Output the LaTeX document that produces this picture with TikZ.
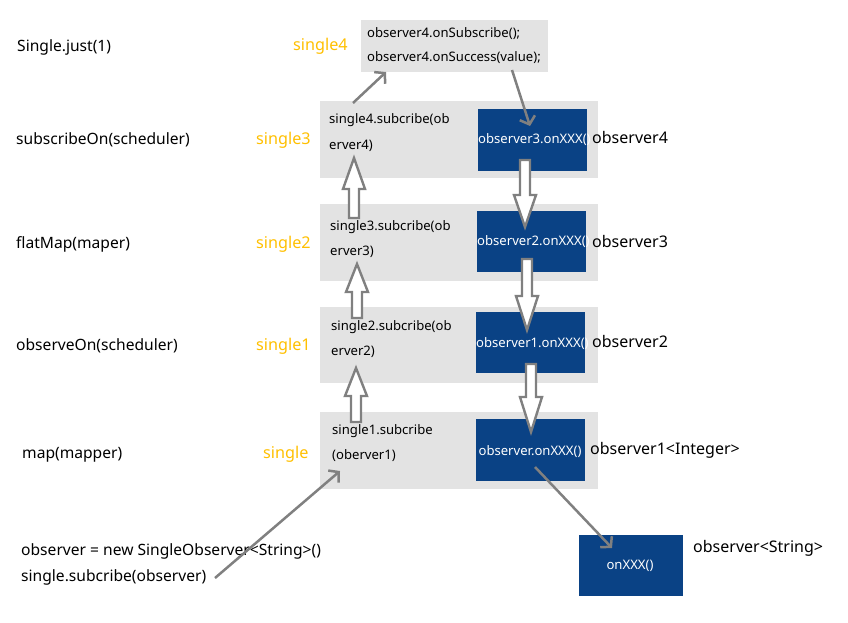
\documentclass[tikz,border=0pt]{standalone}
\usepackage{fontspec}
\setmainfont{Noto Sans}
\usetikzlibrary{arrows.meta}
\definecolor{boxgray}{RGB}{227,227,227}
\definecolor{obsblue}{RGB}{10,66,133}
\definecolor{gold}{RGB}{255,192,0}
\definecolor{arrgray}{RGB}{128,128,128}
\begin{document}
\begin{tikzpicture}[x=1pt,y=-1pt,
  graybox/.style={fill=boxgray,draw=none,anchor=north west,inner sep=0},
  bluebox/.style={fill=obsblue,draw=none,anchor=north west,inner sep=0},
  optext/.style={anchor=west,inner sep=0,font=\fontsize{15.6}{17}\selectfont},
  ylabel/.style={anchor=west,inner sep=0,text=gold,font=\fontsize{16.2}{17}\selectfont},
  smalltext/.style={anchor=west,inner sep=0,font=\fontsize{13.1}{15}\selectfont},
  bluetext/.style={inner sep=0,text=white,font=\fontsize{13.1}{15}\selectfont},
  obslabel/.style={anchor=west,inner sep=0,font=\fontsize{16}{17}\selectfont},
  linearrow/.style={draw=arrgray,line width=2.5pt,-{Straight Barb[length=7pt,width=16pt,line width=2.5pt]}},
  blockarrow/.style={draw=arrgray,fill=white,line width=2.4pt,line join=miter}
]
\useasboundingbox (0,0) rectangle (848,623);
\fill[white] (0,0) rectangle (848,623);

% gray boxes
\node[graybox,minimum width=187,minimum height=52] (top) at (361,20) {};
\node[graybox,minimum width=278,minimum height=77] (r3) at (320,101) {};
\node[graybox,minimum width=278,minimum height=77] (r2) at (320,204) {};
\node[graybox,minimum width=278,minimum height=76] (r1) at (320,307) {};
\node[graybox,minimum width=278,minimum height=77] (r0) at (320,412) {};

% blue boxes
\node[bluebox,minimum width=109,minimum height=62] (b3) at (478,109) {};
\node[bluebox,minimum width=109,minimum height=61] (b2) at (477,211) {};
\node[bluebox,minimum width=109,minimum height=61] (b1) at (476,312) {};
\node[bluebox,minimum width=109,minimum height=62] (b0) at (476,419) {};
\node[bluebox,minimum width=104,minimum height=61] (bs) at (579,535) {};

% left operator texts
\node[optext] (t5) at (17,47) {Single.just(1)};
\node[optext] (t4) at (16,140) {subscribeOn(scheduler)};
\node[optext] (t3) at (16,244) {flatMap(maper)};
\node[optext] (t2) at (16,346) {observeOn(scheduler)};
\node[optext] (t1) at (22,455) {map(mapper)};
\node[optext] (t0a) at (21,551) {observer = new SingleObserver<String>()};
\node[optext] (t0b) at (21,577) {single.subcribe(observer)};

% yellow labels
\node[ylabel] (y4) at (293,46) {single4};
\node[ylabel] (y3) at (256,140) {single3};
\node[ylabel] (y2) at (256,244) {single2};
\node[ylabel] (y1) at (256,346) {single1};
\node[ylabel] (y0) at (263,454) {single};

% gray box texts
\node[smalltext] (c1) at (367,34) {observer4.onSubscribe();};
\node[smalltext] (c2) at (367,58) {observer4.onSuccess(value);};
\node[smalltext] (s3a) at (329,120) {single4.subcribe(ob};
\node[smalltext] (s3b) at (329,146) {erver4)};
\node[smalltext] (s2a) at (330,227) {single3.subcribe(ob};
\node[smalltext] (s2b) at (330,252) {erver3)};
\node[smalltext] (s1a) at (331,327) {single2.subcribe(ob};
\node[smalltext] (s1b) at (331,352) {erver2)};
\node[smalltext] (s0a) at (332,431) {single1.subcribe};
\node[smalltext] (s0b) at (332,456) {(oberver1)};

% blue texts
\node[bluetext,anchor=west] (o3) at (478,140) {observer3.onXXX()};
\node[bluetext,anchor=west] (o2) at (477,242) {observer2.onXXX()};
\node[bluetext,anchor=west] (o1) at (476,344) {observer1.onXXX()};
\node[bluetext] (o0) at (530,452) {observer.onXXX()};
\node[bluetext] (os) at (630,566) {onXXX()};

% right labels
\node[obslabel] (l4) at (592,137) {observer4};
\node[obslabel] (l3) at (592,241) {observer3};
\node[obslabel] (l2) at (592,341) {observer2};
\node[obslabel] (l1) at (590,450) {observer1<Integer>};
\node[obslabel] (l0) at (693,548) {observer<String>};

% line arrows
\coordinate (a1s) at (353,103);
\coordinate (a1e) at (386,72);
\draw[linearrow] (a1s) -- (a1e);
\coordinate (a2s) at (512,70);
\coordinate (a2e) at (530,126);
\draw[linearrow] (a2s) -- (a2e);
\coordinate (a3s) at (215,578);
\coordinate (a3e) at (340,471);
\draw[linearrow] (a3s) -- (a3e);
\coordinate (a4s) at (535,467);
\coordinate (a4e) at (612,548);
\draw[linearrow] (a4s) -- (a4e);

% block arrows
\newcommand{\uparr}[4]{% x, tip, headbase, bottom
  \draw[blockarrow] (#1,#2) -- (#1+11,#3) -- (#1+5,#3) -- (#1+5,#4) -- (#1-5,#4) -- (#1-5,#3) -- (#1-11,#3) -- cycle;}
\newcommand{\downarr}[4]{% x, top, headbase, tip
  \draw[blockarrow] (#1-5,#2) -- (#1+5,#2) -- (#1+5,#3) -- (#1+11,#3) -- (#1,#4) -- (#1-11,#3) -- (#1-5,#3) -- cycle;}
\uparr{354}{158}{189}{218}
\uparr{357}{264}{292}{318}
\uparr{356}{368}{396}{422}
\downarr{525}{160}{195}{227}
\downarr{527}{259}{296}{330}
\downarr{531}{364}{397}{432}
\end{tikzpicture}
\end{document}
